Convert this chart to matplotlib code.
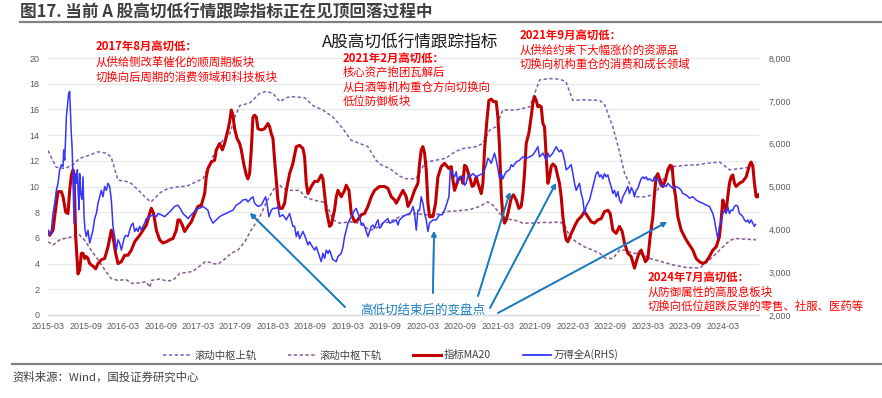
import matplotlib
matplotlib.use("Agg")
import matplotlib.pyplot as plt
from matplotlib.lines import Line2D
from matplotlib.ticker import FuncFormatter

plt.rcParams['font.family'] = ['Noto Sans CJK SC', 'DejaVu Sans']

# x positions are months counted from 2015-03
tick_labels = ["2015-03", "2015-09", "2016-03", "2016-09", "2017-03", "2017-09",
               "2018-03", "2018-09", "2019-03", "2019-09", "2020-03", "2020-09",
               "2021-03", "2021-09", "2022-03", "2022-09", "2023-03", "2023-09", "2024-03"]

# 滚动中枢上轨 (left axis)
upper_pts = [(0.0, 12.8), (1.3, 11.5), (2.7, 11.4), (4.0, 11.7), (5.1, 12.2), (6.7, 12.45),
             (8.0, 12.7), (9.3, 12.6), (10.1, 12.3), (11.2, 10.5), (12.5, 10.4), (13.3, 10.25),
             (14.7, 9.6), (15.7, 9.1), (16.5, 8.8), (17.9, 9.5), (19.2, 9.85), (21.1, 10.0),
             (22.1, 10.0), (23.2, 10.25), (24.8, 10.6), (25.9, 11.8), (26.9, 12.85), (28.0, 13.6),
             (29.1, 14.1), (29.9, 15.4), (30.7, 16.3), (32.3, 16.5), (33.9, 17.25), (34.9, 17.4),
             (36.0, 17.25), (37.1, 16.6), (38.1, 16.9), (39.0, 17.0), (41.1, 16.9), (42.4, 16.3),
             (44.0, 15.95), (45.6, 15.4), (47.2, 14.5), (48.5, 13.6), (49.9, 13.35), (51.2, 13.1),
             (52.5, 12.05), (53.3, 11.7), (54.7, 11.4), (56.3, 10.8), (57.3, 10.6), (58.9, 10.6),
             (59.7, 11.3), (60.5, 11.9), (62.1, 12.05), (63.7, 12.2), (65.1, 12.7), (66.4, 12.95),
             (68.5, 13.1), (69.6, 13.35), (70.7, 14.4), (71.7, 14.65), (72.8, 15.95), (74.9, 15.95),
             (77.1, 16.2), (77.9, 17.25), (78.7, 18.3), (80.3, 18.4), (81.9, 18.35), (82.9, 18.15),
             (84.0, 16.7), (85.6, 16.75), (88.3, 16.7), (89.1, 16.35), (90.4, 14.65), (91.4, 12.85),
             (92.3, 11.0), (93.3, 10.0), (94.1, 9.2), (95.7, 9.2), (97.3, 9.45), (98.1, 10.25),
             (98.9, 10.9), (100.0, 11.55), (102.1, 11.65), (104.3, 11.7), (105.3, 11.8), (107.5, 11.9),
             (109.1, 11.3), (110.8, 11.4), (112.4, 11.5), (113.3, 11.85)]

# 滚动中枢下轨 (left axis)
lower_pts = [(0.0, 5.7), (0.8, 5.45), (1.9, 5.85), (3.0, 6.0), (4.0, 6.1), (4.6, 6.3), (5.0, 6.25),
             (5.8, 5.85), (6.9, 5.05), (8.0, 4.3), (9.1, 3.5), (10.1, 2.85), (11.1, 2.7), (12.5, 2.75),
             (13.5, 2.45), (14.6, 2.5), (15.7, 2.6), (16.3, 2.15), (16.6, 2.7), (17.9, 2.8), (19.0, 2.65),
             (20.0, 2.7), (21.1, 3.25), (22.1, 3.3), (23.2, 3.4), (24.8, 4.0), (25.3, 4.2), (26.4, 4.0),
             (27.2, 3.95), (28.3, 4.35), (29.3, 4.8), (30.4, 5.05), (31.5, 5.7), (32.5, 6.6), (33.9, 7.65),
             (34.9, 8.7), (36.0, 9.7), (36.8, 10.25), (37.6, 9.85), (38.7, 9.7), (40.3, 9.7), (41.1, 9.2),
             (42.4, 8.95), (44.0, 8.8), (44.8, 8.4), (45.6, 7.4), (46.7, 7.15), (48.3, 7.25), (49.9, 7.15),
             (51.5, 6.6), (52.5, 6.75), (53.6, 7.15), (54.7, 7.25), (56.3, 7.65), (57.6, 7.8), (58.9, 7.9),
             (60.5, 7.8), (62.1, 7.8), (63.7, 8.05), (65.3, 8.1), (67.5, 8.2), (69.1, 8.45), (70.4, 8.8),
             (71.2, 8.55), (72.3, 7.9), (73.3, 7.5), (74.9, 7.35), (76.0, 7.15), (77.6, 7.15), (79.2, 7.2),
             (80.8, 7.2), (81.9, 7.25), (82.7, 7.0), (83.5, 6.1), (84.5, 5.7), (85.9, 5.3), (87.2, 5.05),
             (88.3, 4.8), (89.3, 4.4), (90.4, 4.4), (91.5, 5.05), (92.5, 5.05), (93.6, 4.8), (94.7, 4.8),
             (96.3, 4.4), (97.9, 4.2), (100.0, 3.9), (102.1, 3.7), (104.3, 3.65), (105.9, 4.3),
             (107.5, 5.05), (109.1, 5.8), (110.1, 5.95), (113.3, 5.85)]

# 指标MA20 (left axis)
ma20_pts = [(0.0, 6.5), (0.27, 6.2), (0.8, 6.6), (1.34, 8.7), (1.6, 9.6), (2.14, 9.6), (2.41, 9.2),
            (2.83, 8.0), (3.2, 7.9), (3.47, 9.7), (3.74, 10.9), (4.0, 11.3), (4.17, 10.8), (4.43, 6.1),
            (4.8, 3.2), (5.07, 3.5), (5.34, 4.8), (5.6, 4.8), (5.87, 4.4), (6.14, 4.55), (6.4, 4.4),
            (6.67, 4.0), (7.2, 3.8), (7.63, 3.6), (8.0, 4.0), (8.53, 4.3), (9.07, 4.4), (9.6, 5.3),
            (10.14, 6.6), (10.4, 6.1), (10.83, 4.8), (11.2, 4.0), (11.74, 4.15), (12.27, 4.65),
            (12.8, 4.65), (13.34, 5.05), (13.87, 5.7), (14.67, 6.2), (15.2, 6.6), (15.74, 7.0),
            (16.27, 7.9), (16.54, 8.3), (16.9, 7.9), (17.34, 6.6), (17.87, 5.85), (18.4, 5.6),
            (18.94, 5.7), (19.47, 5.85), (20.0, 5.95), (20.54, 6.6), (20.8, 7.4), (21.07, 7.4),
            (21.5, 7.0), (21.87, 6.5), (22.4, 6.9), (22.94, 7.25), (23.47, 7.9), (24.0, 8.45),
            (24.54, 8.55), (25.07, 9.45), (25.34, 10.75), (25.6, 11.4), (26.14, 11.9), (26.67, 12.05),
            (26.94, 12.85), (27.47, 13.35), (27.9, 12.85), (28.27, 13.35), (28.8, 14.4), (29.07, 15.05),
            (29.34, 15.95), (29.6, 15.55), (29.87, 14.5), (30.25, 13.75), (30.67, 13.35), (30.94, 12.85),
            (31.31, 11.8), (31.74, 10.9), (32.0, 10.6), (32.27, 11.0), (32.54, 12.85), (32.8, 15.4),
            (33.07, 15.55), (33.34, 15.4), (33.6, 14.5), (34.14, 14.4), (34.67, 14.5), (35.2, 14.9),
            (35.47, 14.65), (35.74, 14.1), (36.0, 13.75), (36.27, 12.05), (36.54, 10.5), (36.8, 8.95),
            (37.07, 8.3), (37.5, 8.3), (37.87, 8.7), (38.14, 9.7), (38.67, 11.0), (39.2, 11.8),
            (39.74, 13.1), (40.27, 13.2), (40.81, 12.95), (41.07, 12.3), (41.34, 10.25), (41.6, 9.45),
            (42.14, 10.0), (42.67, 10.4), (43.2, 10.4), (43.74, 10.9), (44.0, 10.6), (44.54, 8.2),
            (45.07, 6.9), (45.34, 7.0), (45.87, 8.2), (46.14, 9.2), (46.41, 9.7), (46.94, 9.2),
            (47.47, 9.7), (47.74, 10.1), (48.17, 9.7), (48.54, 7.9), (49.07, 7.25), (49.6, 7.4),
            (50.14, 7.8), (50.67, 7.9), (51.2, 8.45), (51.74, 9.2), (52.27, 9.7), (53.07, 10.0),
            (53.87, 10.0), (54.41, 9.85), (54.94, 9.2), (55.47, 8.95), (55.74, 8.7), (56.27, 9.2),
            (56.81, 9.7), (57.34, 9.2), (57.61, 8.45), (58.14, 8.95), (58.67, 9.7), (59.21, 10.25),
            (59.47, 11.8), (59.74, 12.85), (60.0, 13.1), (60.27, 12.6), (60.54, 11.3), (60.81, 8.7),
            (61.07, 7.65), (61.61, 7.65), (62.03, 8.7), (62.41, 10.75), (62.94, 11.55), (63.47, 11.8),
            (63.74, 11.65), (64.17, 11.4), (64.54, 11.55), (64.81, 10.5), (65.07, 9.7), (65.61, 10.5),
            (66.14, 10.75), (66.41, 10.25), (66.67, 11.65), (66.94, 11.55), (67.47, 10.75), (67.9, 10.0),
            (68.17, 10.1), (68.54, 10.75), (68.81, 10.25), (69.34, 9.45), (69.61, 10.25), (69.87, 12.85),
            (70.25, 15.15), (70.57, 16.7), (70.94, 16.8), (71.31, 16.6), (71.74, 16.6), (72.01, 15.4),
            (72.27, 13.1), (72.54, 9.45), (72.81, 7.65), (73.07, 7.15), (73.34, 7.4), (73.61, 7.9),
            (74.14, 9.1), (74.51, 9.35), (74.94, 8.95), (75.37, 8.3), (75.74, 8.45), (76.01, 9.45),
            (76.27, 11.0), (76.54, 13.35), (76.97, 14.15), (77.34, 15.45), (77.61, 16.5), (77.87, 17.0),
            (78.14, 16.7), (78.41, 16.2), (78.67, 16.3), (78.94, 16.2), (79.21, 14.9), (79.47, 14.65),
            (79.74, 12.3), (80.01, 10.25), (80.27, 10.75), (80.54, 11.55), (80.81, 11.75), (81.23, 11.55),
            (81.61, 10.75), (81.87, 10.25), (82.14, 9.2), (82.41, 7.65), (82.67, 6.6), (82.94, 5.85),
            (83.21, 5.7), (83.74, 6.35), (84.01, 6.6), (84.27, 6.9), (84.81, 7.4), (85.34, 7.65),
            (85.87, 8.05), (86.41, 7.65), (86.94, 7.25), (87.47, 7.15), (88.01, 7.4), (88.54, 7.5),
            (89.07, 8.05), (89.61, 8.15), (89.98, 7.9), (90.41, 6.6), (90.94, 6.35), (91.47, 6.9),
            (91.9, 6.5), (92.27, 5.6), (92.81, 4.8), (93.34, 4.55), (93.87, 3.65), (94.25, 4.3),
            (94.57, 4.8), (94.94, 5.05), (95.31, 4.55), (95.63, 4.15), (96.01, 4.4), (96.38, 6.1),
            (96.81, 7.65), (97.07, 9.45), (97.34, 10.75), (97.61, 11.0), (97.98, 10.5), (98.41, 10.0),
            (98.83, 10.5), (99.21, 11.3), (99.58, 11.65), (99.9, 11.55), (100.11, 10.25), (100.45, 9.2),
            (100.81, 7.65), (101.35, 6.6), (102.14, 5.85), (102.67, 5.45), (103.21, 5.05), (103.74, 4.4),
            (104.27, 4.15), (104.81, 4.0), (105.34, 4.15), (105.87, 4.55), (106.41, 5.05), (106.94, 5.3),
            (107.47, 6.1), (107.74, 7.4), (108.01, 8.95), (108.27, 8.45), (108.54, 8.15), (108.81, 9.2),
            (109.07, 10.25), (109.34, 10.75), (109.61, 10.9), (109.87, 10.25), (110.14, 10.0),
            (110.67, 10.25), (111.21, 10.4), (111.74, 10.75), (112.27, 11.65), (112.54, 11.9),
            (112.81, 11.6), (113.07, 10.25), (113.34, 9.2), (113.61, 9.2), (113.77, 9.35)]

# 万得全A (right axis)
wind_pts = [(0.0, 3950), (0.27, 3860), (0.54, 3980), (0.8, 4370), (1.07, 4610), (1.34, 4910),
            (1.6, 5075), (1.87, 5390), (2.14, 5510), (2.41, 5465), (2.51, 5855), (2.67, 5615),
            (2.83, 6170), (2.94, 6635), (3.1, 6860), (3.31, 7175), (3.47, 7220), (3.63, 6635),
            (3.74, 6200), (3.85, 5930), (4.0, 5225), (4.17, 4145), (4.33, 5300), (4.54, 5075),
            (4.7, 5390), (4.81, 4910), (4.97, 4460), (5.07, 5300), (5.23, 4835), (5.44, 4700),
            (5.6, 5225), (5.77, 4295), (5.93, 3980), (6.14, 3830), (6.4, 3980), (6.67, 3680),
            (6.94, 3830), (7.2, 3980), (7.47, 4250), (7.74, 4370), (8.0, 4610), (8.27, 4760),
            (8.54, 4910), (8.8, 4760), (9.07, 5000), (9.34, 4910), (9.6, 5075), (9.87, 5000),
            (10.14, 4685), (10.4, 4070), (10.67, 3830), (10.94, 3515), (11.2, 3755), (11.47, 3680),
            (11.74, 3515), (12.0, 3680), (12.27, 3830), (12.54, 3860), (12.8, 3830), (13.07, 3980),
            (13.34, 4100), (13.6, 4145), (13.87, 3950), (14.14, 4025), (14.4, 3950), (14.67, 4070),
            (14.94, 3980), (15.2, 4070), (15.47, 4145), (15.74, 4250), (16.27, 4295), (16.8, 4340),
            (17.34, 4295), (17.61, 4370), (18.14, 4340), (18.67, 4295), (19.2, 4370), (19.74, 4445),
            (20.27, 4535), (20.8, 4565), (21.34, 4445), (21.6, 4370), (22.14, 4295), (22.4, 4250),
            (22.94, 4340), (23.47, 4415), (23.74, 4490), (24.27, 4490), (24.8, 4535), (25.34, 4475),
            (25.6, 4445), (25.87, 4295), (26.4, 4145), (26.94, 4220), (27.47, 4295), (28.0, 4340),
            (28.54, 4370), (29.07, 4415), (29.6, 4445), (30.14, 4565), (30.67, 4610), (31.2, 4685),
            (31.74, 4700), (32.0, 4640), (32.54, 4730), (32.8, 4760), (33.07, 4610), (33.6, 4535),
            (34.14, 4565), (34.4, 4640), (34.83, 4760), (35.04, 4610), (35.36, 4295), (35.74, 4445),
            (36.0, 4490), (36.54, 4490), (36.8, 4535), (37.07, 4295), (37.6, 4340), (38.14, 4220),
            (38.67, 4370), (38.94, 4220), (39.2, 4070), (39.47, 4070), (39.74, 3830), (40.0, 3950),
            (40.27, 3785), (40.81, 3950), (41.07, 3860), (41.34, 3755), (41.6, 3635), (41.87, 3710),
            (42.14, 3635), (42.67, 3515), (42.94, 3590), (43.47, 3365), (43.74, 3245), (44.0, 3440),
            (44.27, 3320), (44.54, 3515), (44.81, 3440), (45.07, 3515), (45.34, 3395), (45.61, 3290),
            (46.14, 3245), (46.41, 3365), (46.94, 3440), (47.21, 3590), (47.47, 3830), (47.74, 3980),
            (48.01, 4145), (48.27, 4220), (48.81, 4370), (49.07, 4445), (49.34, 4490), (49.61, 4370),
            (49.87, 4295), (50.14, 4100), (50.41, 4145), (50.67, 4070), (50.94, 3950), (51.21, 3830),
            (51.47, 3950), (51.74, 4070), (52.01, 4100), (52.27, 4025), (52.54, 4145), (52.81, 4220),
            (53.07, 4025), (53.34, 4070), (53.61, 4145), (54.14, 4220), (54.41, 4250), (54.67, 4145),
            (55.21, 4175), (55.74, 4220), (56.01, 4100), (56.27, 4220), (56.81, 4295), (57.34, 4340),
            (57.87, 4370), (58.14, 4415), (58.41, 4535), (58.67, 4370), (58.94, 3980), (59.21, 4445),
            (59.47, 4445), (59.74, 4760), (60.01, 4610), (60.27, 4370), (60.54, 4220), (60.81, 3950),
            (61.07, 4145), (61.61, 4220), (62.14, 4220), (62.67, 4340), (63.09, 4340), (63.47, 4445),
            (63.85, 4610), (64.17, 4760), (64.39, 5390), (64.71, 5300), (65.07, 5225), (65.34, 5345),
            (65.61, 5075), (65.87, 5225), (66.41, 5225), (66.67, 5030), (66.94, 5075), (67.21, 5270),
            (67.47, 5225), (68.01, 5300), (68.54, 5225), (69.07, 5270), (69.61, 5300), (69.87, 5390),
            (70.14, 5495), (70.41, 5660), (70.67, 5615), (70.94, 5540), (71.21, 5660), (71.47, 5780),
            (71.74, 5615), (72.01, 5420), (72.27, 5180), (72.54, 5300), (72.81, 5180), (73.07, 5270),
            (73.34, 5345), (73.87, 5390), (74.14, 5510), (74.41, 5465), (74.94, 5570), (75.47, 5615),
            (76.01, 5690), (76.54, 5660), (77.07, 5690), (77.61, 5735), (78.14, 5855), (78.41, 5930),
            (78.67, 5690), (79.21, 5780), (79.74, 5615), (80.01, 5780), (80.27, 5690), (80.81, 5780),
            (81.34, 5930), (81.61, 5855), (81.87, 5810), (82.14, 5855), (82.41, 5780), (82.67, 5615),
            (82.94, 5390), (83.21, 5420), (83.47, 5465), (83.74, 5510), (84.01, 5300), (84.27, 5075),
            (84.54, 4910), (84.81, 5000), (85.07, 5075), (85.34, 4835), (85.61, 4685), (85.87, 4370),
            (86.14, 4535), (86.41, 4610), (86.67, 4685), (86.94, 4835), (87.21, 5000), (87.47, 5150),
            (87.74, 5300), (88.01, 5345), (88.27, 5225), (88.54, 5270), (88.81, 5180), (89.07, 5300),
            (89.34, 5225), (89.61, 5270), (89.87, 5120), (90.14, 5000), (90.41, 4835), (90.67, 4910),
            (90.94, 4760), (91.21, 4880), (91.47, 4685), (91.74, 4610), (92.01, 4760), (92.27, 4835),
            (92.54, 4910), (92.81, 5000), (93.07, 4835), (93.34, 4955), (93.61, 4910), (93.87, 4760),
            (94.14, 4910), (94.41, 4955), (94.67, 5075), (94.94, 5180), (95.21, 5225), (95.47, 5180),
            (95.74, 5225), (96.01, 5150), (96.27, 5180), (96.81, 5120), (97.07, 5225), (97.34, 5150),
            (97.61, 5180), (97.87, 5075), (98.14, 5000), (98.41, 5030), (98.94, 5000), (99.21, 5075),
            (99.47, 5030), (100.01, 4955), (100.54, 5000), (101.07, 4955), (101.34, 4910), (101.61, 4835),
            (102.14, 4805), (102.67, 4730), (103.21, 4760), (103.74, 4685), (104.27, 4640), (104.81, 4610),
            (105.34, 4565), (105.87, 4535), (106.41, 4370), (106.67, 4220), (106.94, 3980), (107.21, 3785),
            (107.47, 4070), (107.74, 4175), (108.01, 4370), (108.27, 4445), (108.54, 4370), (108.81, 4535),
            (109.07, 4370), (109.34, 4445), (109.61, 4445), (109.87, 4535), (110.14, 4565), (110.41, 4535),
            (110.67, 4370), (110.94, 4340), (111.21, 4295), (111.47, 4220), (111.74, 4175), (112.01, 4220),
            (112.27, 4145), (112.54, 4220), (112.81, 4145), (113.07, 4070), (113.23, 4115)]

W, H = 882, 398


def fx(px):  # figure pixel -> figure fraction
    return px / W


def fy(py):
    return 1 - py / H


fig = plt.figure(figsize=(W / 100, H / 100), dpi=100)
ax = fig.add_axes([fx(48), fy(315), fx(759) - fx(48), fy(58) - fy(315)])
ax2 = ax.twinx()

c_upper = '#7F5FB5'
c_lower = '#855C8E'
c_red = '#C00000'
c_blue = '#3535FF'
dash = (0, (2.2, 1.6))

ut, uv = zip(*upper_pts)
lt, lv = zip(*lower_pts)
rt, rv = zip(*ma20_pts)
bt, bv = zip(*wind_pts)

ax.plot(ut, uv, color=c_upper, lw=1.1, linestyle=dash, zorder=3)
ax.plot(lt, lv, color=c_lower, lw=1.1, linestyle=dash, zorder=3)
ax.plot(rt, rv, color=c_red, lw=2.2, zorder=4)
ax2.plot(bt, bv, color=c_blue, lw=1.1, zorder=3)

ax.set_xlim(0, 113.8)
ax.set_ylim(0, 20)
ax.set_yticks(range(0, 21, 2))
ax2.set_ylim(2000, 8000)
ax2.set_yticks(range(2000, 8001, 1000))
ax2.yaxis.set_major_formatter(FuncFormatter(lambda v, p: f"{int(v):,}"))
ax.set_xticks(range(0, 109, 6))
ax.set_xticklabels(tick_labels)

ax.yaxis.grid(True, color='#E8E8E8', lw=0.9)
ax.set_axisbelow(True)
for a in (ax, ax2):
    for s in a.spines.values():
        s.set_visible(False)
ax.spines['bottom'].set_visible(True)
ax.spines['bottom'].set_color('#D9D9D9')
ax.spines['bottom'].set_linewidth(1.0)

for lab in ax.get_xticklabels() + ax.get_yticklabels() + ax2.get_yticklabels():
    lab.set_fontfamily('Liberation Sans')
    lab.set_fontsize(6.4)
    lab.set_color('#595959')
ax.tick_params(axis='both', length=0)
ax.tick_params(axis='x', pad=5)
ax.tick_params(axis='y', pad=6)
ax2.tick_params(axis='y', length=0, pad=7)

# header and footer
fig.text(fx(20), fy(12), "图17. 当前 A 股高切低行情跟踪指标正在见顶回落过程中",
         fontsize=12, fontweight='bold', color='#404040', va='center', ha='left')
fig.add_artist(Line2D([fx(20), 1.0], [fy(22), fy(22)], color='#808080', lw=1.6))
fig.add_artist(Line2D([fx(12), 1.0], [fy(364), fy(364)], color='#808080', lw=1.6))
fig.text(fx(12), fy(377), "资料来源：Wind，国投证券研究中心", fontsize=8.2,
         color='#404040', va='center', ha='left', style='italic')

fig.text(fx(410), fy(42), "A股高切低行情跟踪指标", fontsize=12, color='#1A1A1A',
         ha='center', va='center')

# red notes
notes = [
    (96, [46.5, 62, 77], ["2017年8月高切低：", "从供给侧改革催化的顺周期板块", "切换向后周期的消费领域和科技板块"]),
    (343, [58, 72.5, 87, 101.5], ["2021年2月高切低：", "核心资产抱团瓦解后", "从白酒等机构重仓方向切换向", "低位防御板块"]),
    (520, [35.5, 50, 64.5], ["2021年9月高切低：", "从供给约束下大幅涨价的资源品", "切换向机构重仓的消费和成长领域"]),
    (648, [277.5, 292, 306.5], ["2024年7月高切低：", "从防御属性的高股息板块", "切换向低位超跌反弹的零售、社服、医药等"]),
]
for x0, ys, lines in notes:
    for i, (yy, s) in enumerate(zip(ys, lines)):
        fig.text(fx(x0), fy(yy), s, fontsize=8.2, color='#FF0000', ha='left', va='center',
                 fontweight='bold' if i == 0 else 'normal')

# turning point arrows
c_arrow = '#1B7CC1'
fig.text(fx(423), fy(310), "高低切结束后的变盘点", fontsize=9, color=c_arrow,
         ha='center', va='center')
arrows = [((345, 307), (250, 213)), ((433, 293), (434, 231)), ((478, 296), (510, 192)),
          ((490, 308), (556, 183)), ((498, 313), (667, 222))]
for (x0, y0), (x1, y1) in arrows:
    fig.add_artist(plt.annotate("", xy=(fx(x1), fy(y1)), xytext=(fx(x0), fy(y0)),
                                xycoords='figure fraction', textcoords='figure fraction',
                                arrowprops=dict(arrowstyle='-|>', color=c_arrow, lw=1.2,
                                                mutation_scale=7, shrinkA=0, shrinkB=0)))

# legend
handles = [Line2D([], [], color=c_upper, lw=1.1, linestyle=dash),
           Line2D([], [], color=c_lower, lw=1.1, linestyle=dash),
           Line2D([], [], color=c_red, lw=2.2),
           Line2D([], [], color=c_blue, lw=1.3)]
labels = ["滚动中枢上轨", "滚动中枢下轨", "指标MA20", "万得全A(RHS)"]
fig.legend(handles, labels, loc='center', bbox_to_anchor=(fx(391), fy(355)), ncol=4,
           frameon=False, fontsize=7.5, handlelength=2.7, handletextpad=0.3,
           columnspacing=3.0, labelcolor='#404040')

fig.savefig("out.png", dpi=100)
